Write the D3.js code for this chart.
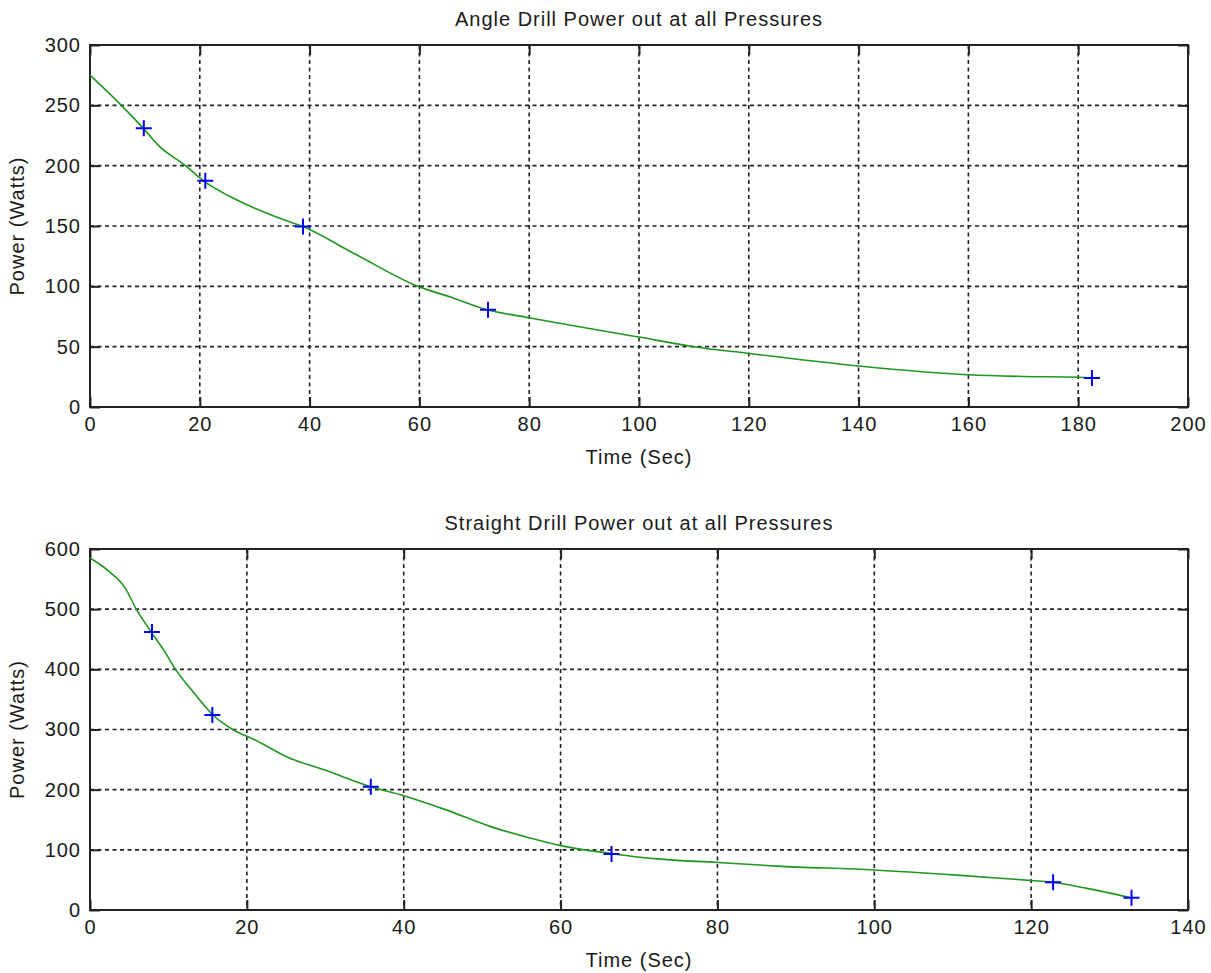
<!DOCTYPE html>
<html>
<head>
<meta charset="UTF-8">
<script src="https://d3js.org/d3.v7.min.js"></script>
<style>
    body { margin: 0; background: #fff; }
    text { font-family: "Liberation Sans", Arial, sans-serif; font-size: 20px; fill: #1a1a1a; letter-spacing: 1px; }
    .grid line { stroke: #222; stroke-width: 1.6; stroke-dasharray: 4,3.5; }
    .frame { fill: none; stroke: #222; stroke-width: 2; }
    .tick line { stroke: #222; stroke-width: 2; }
    .domain { display: none; }
</style>
</head>
<body>
<svg id="fig"></svg>
<script>
// ANGLE DRILL (top)
var angleTime  = [9.8, 21, 38.8, 72.5, 182.5];
var anglePower = [231, 187.5, 149.5, 80.5, 24];
var angleFitTime  = [0, 5.7, 9.8, 12.4, 17.4, 20.8, 25.7, 33.6, 38.8, 48.2, 59.7, 66.4, 72, 80, 100, 110, 120, 140, 160, 170, 180, 182.5];
var angleFitPower = [275, 250, 230.5, 217, 200, 187, 174, 158, 149.5, 127, 100, 90, 81, 74, 58, 50, 44.4, 34, 26.7, 25.3, 24.7, 24];
var angleXTicks = [0, 20, 40, 60, 80, 100, 120, 140, 160, 180, 200];
var angleYTicks = [0, 50, 100, 150, 200, 250, 300];

// STRAIGHT DRILL (bottom)
var straightTime  = [7.9, 15.6, 35.8, 66.5, 122.8, 132.8];
var straightPower = [462, 324, 205, 93, 46, 20.5];
var straightFitTime  = [0, 2.5, 4.5, 5.9, 7.7, 9.5, 10.9, 13, 15.6, 18.2, 21, 25.2, 30.3, 35.8, 40, 45.5, 51, 56, 60, 66.4, 72.3, 80, 87.6, 100, 110.5, 120, 122.8, 127.1, 132.5];
var straightFitPower = [585, 562, 535, 500, 464, 430, 400, 365, 325, 300, 283, 254, 231, 205, 190, 166, 139, 120, 107, 94, 85, 79, 73, 66.5, 58, 49, 46, 36, 21];
var straightXTicks = [0, 20, 40, 60, 80, 100, 120, 140];
var straightYTicks = [0, 100, 200, 300, 400, 500, 600];

var width = 1211, height = 973;
var svg = d3.select("#fig").attr("width", width).attr("height", height);

var left = 90, right = 1188;

drawPanel({
    title: "Angle Drill Power out at all Pressures",
    top: 45, bottom: 407,
    xTicks: angleXTicks, yTicks: angleYTicks,
    fitT: angleFitTime, fitP: angleFitPower,
    markT: angleTime, markP: anglePower
});

drawPanel({
    title: "Straight Drill Power out at all Pressures",
    top: 549, bottom: 910,
    xTicks: straightXTicks, yTicks: straightYTicks,
    fitT: straightFitTime, fitP: straightFitPower,
    markT: straightTime, markP: straightPower
});

function drawPanel(p) {
    var x = d3.scaleLinear()
        .domain([p.xTicks[0], p.xTicks[p.xTicks.length - 1]])
        .range([left, right]);
    var y = d3.scaleLinear()
        .domain([p.yTicks[0], p.yTicks[p.yTicks.length - 1]])
        .range([p.bottom, p.top]);
    var h = p.bottom - p.top, w = right - left;

    var g = svg.append("g");

    // dashed grid
    var grid = g.append("g").attr("class", "grid");
    grid.selectAll(".gx")
        .data(p.xTicks.slice(1, -1))
        .enter().append("line")
        .attr("x1", d => x(d)).attr("x2", d => x(d))
        .attr("y1", p.top).attr("y2", p.bottom);
    grid.selectAll(".gy")
        .data(p.yTicks.slice(1, -1))
        .enter().append("line")
        .attr("x1", left).attr("x2", right)
        .attr("y1", d => y(d)).attr("y2", d => y(d));

    // inward ticks on all four sides
    g.append("g")
        .attr("transform", `translate(0,${p.bottom})`)
        .call(d3.axisBottom(x).tickValues(p.xTicks).tickSize(-10).tickPadding(10).tickFormat(d3.format("d")));
    g.append("g")
        .attr("transform", `translate(0,${p.top})`)
        .call(d3.axisTop(x).tickValues(p.xTicks).tickSize(-10).tickFormat(""));
    g.append("g")
        .attr("transform", `translate(${left},0)`)
        .call(d3.axisLeft(y).tickValues(p.yTicks).tickSize(-10).tickPadding(9).tickFormat(d3.format("d")));
    g.append("g")
        .attr("transform", `translate(${right},0)`)
        .call(d3.axisRight(y).tickValues(p.yTicks).tickSize(-10).tickFormat(""));

    g.selectAll(".tick text").attr("fill", "#1a1a1a");

    g.append("rect")
        .attr("class", "frame")
        .attr("x", left).attr("y", p.top)
        .attr("width", w).attr("height", h);

    // fitted curve
    var line = d3.line()
        .x(d => x(d[0]))
        .y(d => y(d[1]))
        .curve(d3.curveMonotoneX);
    g.append("path")
        .datum(d3.zip(p.fitT, p.fitP))
        .attr("d", line)
        .attr("fill", "none")
        .attr("stroke", "#1f961f")
        .attr("stroke-width", 1.6);

    // measured points
    g.selectAll(".mark")
        .data(d3.zip(p.markT, p.markP))
        .enter().append("path")
        .attr("transform", d => `translate(${x(d[0])},${y(d[1])})`)
        .attr("d", "M-8,0H8M0,-8V8")
        .attr("stroke", "#0000ff")
        .attr("stroke-width", 2)
        .attr("fill", "none");

    // labels
    g.append("text")
        .attr("x", (left + right) / 2).attr("y", p.top - 19)
        .attr("text-anchor", "middle")
        .text(p.title);
    g.append("text")
        .attr("x", (left + right) / 2).attr("y", p.bottom + 57)
        .attr("text-anchor", "middle")
        .text("Time (Sec)");
    g.append("text")
        .attr("transform", `translate(24,${(p.top + p.bottom) / 2}) rotate(-90)`)
        .attr("text-anchor", "middle")
        .text("Power (Watts)");
}
</script>
</body>
</html>
